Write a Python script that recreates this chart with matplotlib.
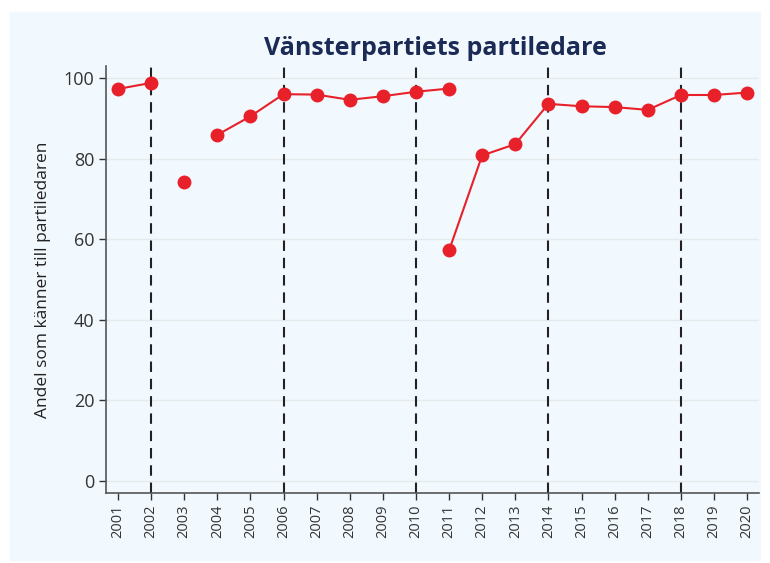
import matplotlib.pyplot as plt
from matplotlib.patches import Rectangle

years = [2001, 2002, 2003, 2004, 2005, 2006, 2007, 2008, 2009, 2010,
         2011, 2012, 2013, 2014, 2015, 2016, 2017, 2018, 2019, 2020]
election_years = [2002, 2006, 2010, 2014, 2018]
y_ticks = [0, 20, 40, 60, 80, 100]

# one list per leader period
years_a = [2001, 2002]
share_a = [97.3, 98.8]
years_b = [2003]
share_b = [74.2]
years_c = [2004, 2005, 2006, 2007, 2008, 2009, 2010, 2011]
share_c = [85.9, 90.5, 96.0, 95.9, 94.6, 95.5, 96.6, 97.4]
years_d = [2011, 2012, 2013, 2014, 2015, 2016, 2017, 2018, 2019, 2020]
share_d = [57.2, 80.8, 83.6, 93.6, 93.0, 92.8, 92.1, 95.8, 95.8, 96.4]

plt.rcParams['font.family'] = ['Open Sans', 'DejaVu Sans']
bg = '#f2f9fe'
red = '#e8202a'

fig = plt.figure(figsize=(7.7, 5.63), dpi=100)
fig.patches.append(Rectangle((10 / 770, 3 / 563), 750 / 770, 548 / 563,
                             transform=fig.transFigure, color=bg, zorder=-10))
ax = fig.add_axes([0.1377, 0.1243, 0.848, 0.7585])
ax.set_facecolor(bg)

for y in y_ticks:
    ax.axhline(y, color='#e6eaec', lw=1, zorder=1)
for yr in election_years:
    ax.axvline(yr, color='#222222', lw=1.5, ls=(0, (5, 3.3)), zorder=2)

for xs, ys in [(years_a, share_a), (years_b, share_b), (years_c, share_c), (years_d, share_d)]:
    ax.plot(xs, ys, color=red, lw=1.5, marker='o', markersize=9, zorder=3)

ax.set_xlim(2000.64, 2020.36)
ax.set_ylim(-3, 103)
ax.set_xticks(years)
ax.set_xticklabels([str(y) for y in years], rotation=90, fontsize=10.5)
ax.set_yticks(y_ticks)
ax.set_yticklabels([str(y) for y in y_ticks], fontsize=13)
ax.tick_params(colors='#333333', length=5, width=1)
for s in ['top', 'right']:
    ax.spines[s].set_visible(False)
for s in ['left', 'bottom']:
    ax.spines[s].set_color('#555555')
    ax.spines[s].set_linewidth(1.2)

ax.set_ylabel('Andel som känner till partiledaren', fontsize=12.5, color='#222222', labelpad=9)
fig.text(0.566, 0.913, 'Vänsterpartiets partiledare', ha='center', va='center',
         fontsize=18, fontweight='bold', color='#1c2b55')

fig.savefig('out.png', dpi=100)
